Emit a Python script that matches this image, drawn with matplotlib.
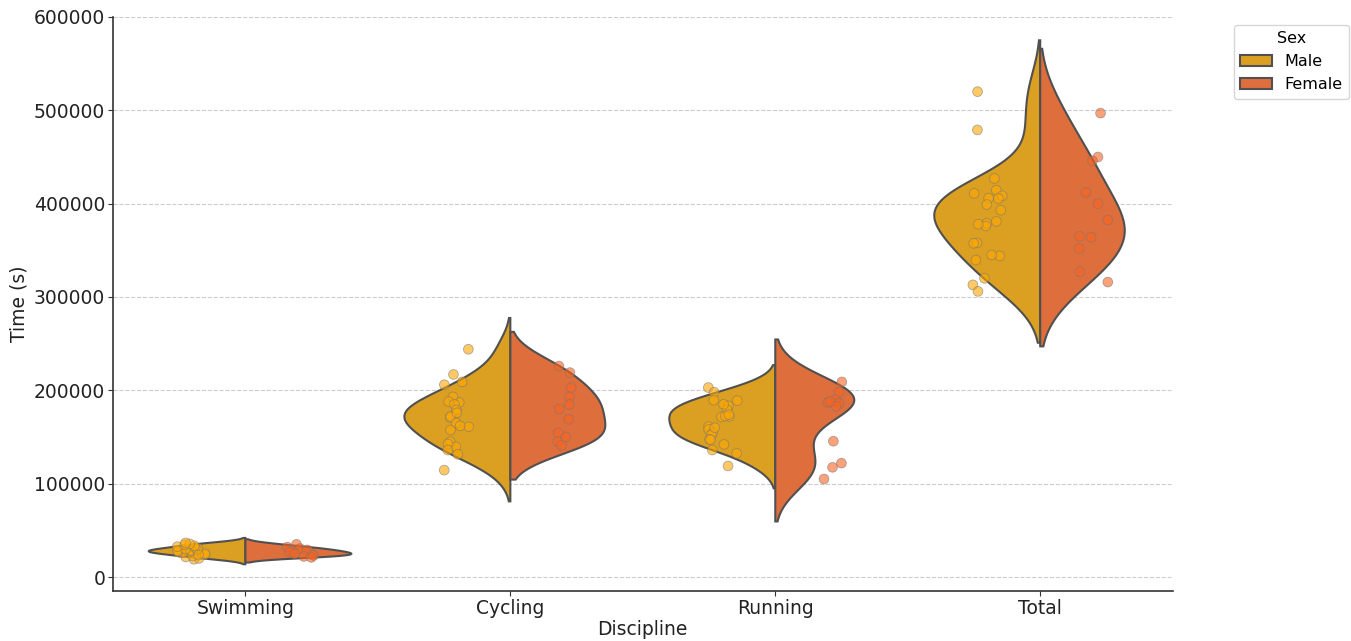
import matplotlib
matplotlib.use("Agg")
import matplotlib.pyplot as plt
import numpy as np
import pandas as pd
import seaborn as sns

# finishing times in seconds, per discipline and sex
disciplines = ["Swimming", "Cycling", "Running", "Total"]
sexes = ["Male", "Female"]

swim_male = [19000, 20000, 21500, 22500, 24000, 25000, 26000, 26500, 27000, 27500, 28000,
             28500, 29000, 30000, 30500, 31500, 32500, 33500, 34500, 35500, 36500, 23500]
swim_female = [35000, 32000, 30500, 29000, 27500, 26500, 25000, 24000, 23000, 22000, 21000]

cycle_male = [244000, 217000, 206000, 209000, 187000, 193000, 188000, 185000, 179000, 171000, 172000,
              165000, 161000, 162000, 157500, 145000, 139500, 142500, 136000, 131500, 114500, 176000]
cycle_female = [226000, 219000, 203000, 193000, 185000, 180000, 169000, 154500, 150000, 145000, 141000]

run_male = [203000, 198000, 189000, 189500, 183500, 179000, 172000, 171500, 172500, 161000, 158000,
            154500, 152000, 147500, 147000, 142000, 136000, 132500, 119000, 185000, 174000, 160000]
run_female = [209000, 198000, 190000, 187000, 186000, 183000, 145500, 122000, 117500, 105000, 188000]

total_male = [520000, 479000, 427000, 414500, 408500, 405500, 406000, 411000, 399000, 393000, 381000,
              379000, 376000, 378000, 358000, 357500, 344000, 345000, 339500, 320000, 313000, 306000]
total_female = [497000, 450000, 446000, 412000, 400000, 382500, 364000, 365000, 352000, 327000, 316000]

values = {
    ("Swimming", "Male"): swim_male, ("Swimming", "Female"): swim_female,
    ("Cycling", "Male"): cycle_male, ("Cycling", "Female"): cycle_female,
    ("Running", "Male"): run_male, ("Running", "Female"): run_female,
    ("Total", "Male"): total_male, ("Total", "Female"): total_female,
}

rows = []
for (disc, sex), times in values.items():
    for t in times:
        rows.append({"Discipline": disc, "Sex": sex, "Time (s)": t})
df = pd.DataFrame(rows)

point_colors = {"Male": "#FFA800", "Female": "#F96421"}
fill_colors = {"Male": "#DBA021", "Female": "#DE6E3C"}
edge_color = "#505050"


def kde(times, cut=2, gridsize=120):
    # gaussian kde with scott's bandwidth, like scipy's gaussian_kde
    x = np.asarray(times, dtype=float)
    bw = x.std(ddof=1) * len(x) ** (-1 / 5)
    grid = np.linspace(x.min() - cut * bw, x.max() + cut * bw, gridsize)
    dens = np.exp(-0.5 * ((grid[:, None] - x[None, :]) / bw) ** 2).sum(axis=1)
    dens /= len(x) * bw * np.sqrt(2 * np.pi)
    return grid, dens


plt.rcParams["font.family"] = "DejaVu Sans"
fig, ax = plt.subplots(figsize=(13.51, 6.41), dpi=100)
fig.subplots_adjust(left=0.0836, right=0.868, top=0.9735, bottom=0.078)

ax.grid(axis="y", linestyle="--", color="#cccccc", linewidth=0.8, zorder=0)
ax.set_axisbelow(True)

# split violins, area-scaled within each discipline
half_width = 0.4
for i, disc in enumerate(disciplines):
    curves = {sex: kde(values[(disc, sex)]) for sex in sexes}
    peak = max(d.max() for _, d in curves.values())
    for sex, side in zip(sexes, [-1, 1]):
        grid, dens = curves[sex]
        xs = i + side * dens / peak * half_width
        poly_x = np.concatenate([[i], xs, [i]])
        poly_y = np.concatenate([[grid[0]], grid, [grid[-1]]])
        ax.fill(poly_x, poly_y, facecolor=fill_colors[sex], edgecolor=edge_color,
                linewidth=1.5, zorder=2, label=sex if i == 0 else None)

np.random.seed(3)
sns.stripplot(data=df, x="Discipline", y="Time (s)", hue="Sex", order=disciplines,
              hue_order=sexes, dodge=True, jitter=0.12, palette=point_colors, alpha=0.6,
              size=7, edgecolor="#777777", linewidth=0.6, legend=False, ax=ax, zorder=3)

ax.set_xlim(-0.5, 3.5)
ax.set_ylim(-15000, 600000)
ax.set_yticks(np.arange(0, 600001, 100000))
ax.yaxis.set_major_formatter(matplotlib.ticker.FuncFormatter(lambda v, p: f"{int(v)}"))
ax.tick_params(labelsize=13.5, colors="#333333", labelcolor="#222222", pad=2)
ax.set_xlabel("Discipline", fontsize=13.5, color="#222222", labelpad=2)
ax.set_ylabel("Time (s)", fontsize=13.5, color="#222222")
for side in ["top", "right"]:
    ax.spines[side].set_visible(False)
for side in ["left", "bottom"]:
    ax.spines[side].set_color("#333333")
    ax.spines[side].set_linewidth(1.2)

handles, labels = ax.get_legend_handles_labels()
ax.legend(handles, labels, title="Sex", loc="upper left", bbox_to_anchor=(1.05, 1.0),
          fontsize=11.5, title_fontsize=11.5, frameon=True, edgecolor="#cccccc")

fig.savefig("out.png", dpi=100)
